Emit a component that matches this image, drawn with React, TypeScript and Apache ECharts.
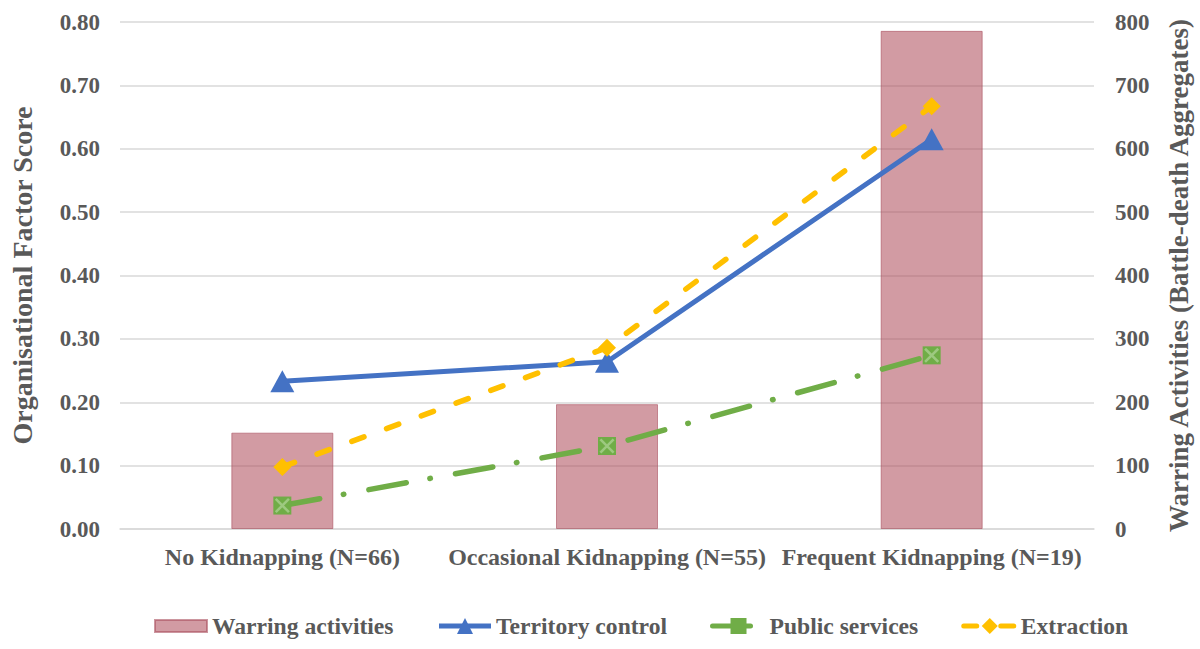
import React, { useEffect, useRef } from "react";
import * as echarts from "echarts";

const categories = [
  "No Kidnapping (N=66)",
  "Occasional Kidnapping (N=55)",
  "Frequent Kidnapping (N=19)",
];
const warringActivities = [152, 197, 786];
const territoryControl = [0.233, 0.264, 0.615];
const publicServices = [0.037, 0.131, 0.274];
const extraction = [0.098, 0.286, 0.667];

const FONT = '"Liberation Serif", "Times New Roman", serif';
const TEXT = "#595959";

export default function App() {
  const ref = useRef<HTMLDivElement>(null);
  useEffect(() => {
    document.body.style.margin = "0";
    if (!ref.current) return;
    const chart = echarts.init(ref.current, null, { renderer: "svg" });
    const xMark = "path://M0,1.2 L1.2,0 L10,8.8 L8.8,10 Z M8.8,0 L10,1.2 L1.2,10 L0,8.8 Z";
    chart.setOption({
      animation: false,
      backgroundColor: "#ffffff",
      textStyle: { fontFamily: FONT },
      grid: { left: 119, right: 103, top: 22, bottom: 120 },
      legend: {
        left: 149,
        top: 609,
        itemWidth: 52,
        itemHeight: 20,
        itemGap: 43,
        lineStyle: { width: 5 },
        data: [
          { name: "Warring activities", icon: "path://M0,0 L52,0 L52,12 L0,12 Z" },
          { name: "Territory control" },
          { name: "Public services" },
          { name: "Extraction" },
        ],
        textStyle: { fontFamily: FONT, fontSize: 23.6, fontWeight: "bold", color: TEXT },
      },
      xAxis: {
        type: "category",
        data: categories,
        axisLine: { show: true, lineStyle: { color: "#D9D9D9", width: 1.5 } },
        axisTick: { show: false },
        axisLabel: {
          margin: 16,
          interval: 0,
          fontFamily: FONT,
          fontSize: 24,
          fontWeight: "bold",
          color: TEXT,
        },
      },
      yAxis: [
        {
          type: "value",
          min: 0,
          max: 0.8,
          interval: 0.1,
          name: "Organisational Factor Score",
          nameLocation: "middle",
          nameGap: 84,
          nameTextStyle: { fontFamily: FONT, fontSize: 28, fontWeight: "bold", color: TEXT },
          axisLine: { show: false },
          axisTick: { show: false },
          splitLine: { show: true, lineStyle: { color: "#D9D9D9", width: 1.5 } },
          axisLabel: {
            margin: 20,
            fontFamily: FONT,
            fontSize: 23,
            fontWeight: "bold",
            color: TEXT,
            formatter: (v: number) => v.toFixed(2),
          },
        },
        {
          type: "value",
          min: 0,
          max: 800,
          interval: 100,
          position: "right",
          name: "Warring Activities (Battle-death Aggregates)",
          nameLocation: "middle",
          nameGap: 71,
          nameTextStyle: { fontFamily: FONT, fontSize: 27, fontWeight: "bold", color: TEXT },
          axisLine: { show: false },
          axisTick: { show: false },
          splitLine: { show: false },
          axisLabel: {
            margin: 21,
            fontFamily: FONT,
            fontSize: 23,
            fontWeight: "bold",
            color: TEXT,
          },
        },
      ],
      series: [
        {
          name: "Warring activities",
          type: "bar",
          yAxisIndex: 1,
          data: warringActivities,
          barWidth: 102,
          itemStyle: {
            color: "rgba(173,73,88,0.55)",
            borderColor: "rgba(170,80,95,0.6)",
            borderWidth: 1,
          },
          z: 1,
        },
        {
          name: "Territory control",
          type: "line",
          yAxisIndex: 0,
          data: territoryControl,
          symbol: "triangle",
          symbolSize: [24, 22],
          itemStyle: { color: "#4472C4" },
          lineStyle: { color: "#4472C4", width: 5 },
          z: 3,
        },
        {
          name: "Public services",
          type: "line",
          yAxisIndex: 0,
          data: publicServices,
          symbol: "rect",
          symbolSize: 18,
          itemStyle: { color: "#70AD47" },
          lineStyle: { color: "#70AD47", width: 5.5, type: [38, 24, 0.5, 25.5], cap: "round" },
          z: 3,
        },
        {
          name: "publicServicesCross",
          type: "scatter",
          yAxisIndex: 0,
          data: publicServices,
          symbol: xMark,
          symbolSize: 15,
          silent: true,
          itemStyle: { color: "#A9D08E" },
          z: 4,
        },
        {
          name: "Extraction",
          type: "line",
          yAxisIndex: 0,
          data: extraction,
          symbol: "diamond",
          symbolSize: 18,
          itemStyle: { color: "#FFC000" },
          lineStyle: { color: "#FFC000", width: 5.5, type: [13, 24], cap: "round" },
          z: 3,
        },
      ],
    });
    return () => chart.dispose();
  }, []);
  return <div ref={ref} style={{ width: 1200, height: 649 }} />;
}
